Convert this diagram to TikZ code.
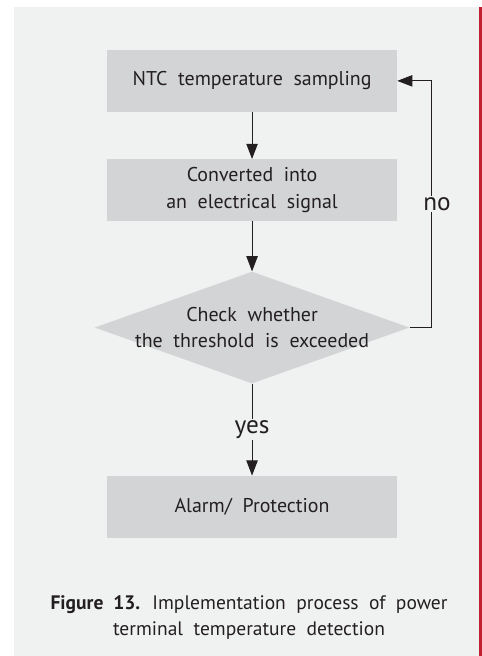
\documentclass[tikz,border=0pt]{standalone}
\usepackage{fontspec}
\setmainfont{PT Sans}[WordSpace=2]
\usepackage{tikz}
\usetikzlibrary{arrows.meta,positioning,shapes.geometric}
\definecolor{panelgray}{RGB}{240,241,241}
\definecolor{boxgray}{RGB}{211,212,214}
\definecolor{edgered}{RGB}{192,32,48}
\definecolor{inkgray}{RGB}{35,31,32}

\begin{document}
\begin{tikzpicture}
  [node distance=1.24cm,
    every node/.style={font=\fontsize{15}{20}\selectfont,text=inkgray},
    stage/.style={rectangle,fill=boxgray,minimum width=7.67cm,minimum height=1.64cm,align=center,inner sep=0pt},
    test/.style={diamond,fill=boxgray,minimum width=8.33cm,minimum height=2.96cm,inner sep=0pt},
    flow/.style={draw=inkgray,line width=0.75pt,-{Triangle[length=4mm,width=3mm]}},
    tag/.style={fill=panelgray,inner sep=1pt,font=\fontsize{19}{22}\selectfont},
  ]

  \useasboundingbox (0,0) rectangle (12.75,-17.36);
  \fill[panelgray] (0.37,-0.19) rectangle (12.67,-17.36);
  \fill[edgered] (12.67,-0.19) rectangle (12.75,-17.36);

  \node[stage] (ntc) at (6.67,-2.14) {NTC temperature sampling};
  \node[stage,below=of ntc] (conv) {Converted into\\an electrical signal};
  \node[test,below=1.32cm of conv] (check) {};
  \node[align=center] (checktext) at (check) {Check whether\\the threshold is exceeded};
  \node[stage,below=2.43cm of check] (alarm) {Alarm/ Protection};
  \node[align=center,font=\fontsize{14.7}{20}\selectfont] (caption) at (6.59,-16.34)
    {\textbf{Figure 13.} Implementation process of power\\terminal temperature detection};

  \draw[flow] (ntc) -- (conv);
  \draw[flow] (conv) -- (check);
  \draw[flow] (check) -- node[tag] (yes) {yes} (alarm);
  \draw[flow] (check.east) -- ++(0.58,0) |- node[tag,pos=0.25,xshift=4pt] (no) {no} (ntc.east);
\end{tikzpicture}
\end{document}
